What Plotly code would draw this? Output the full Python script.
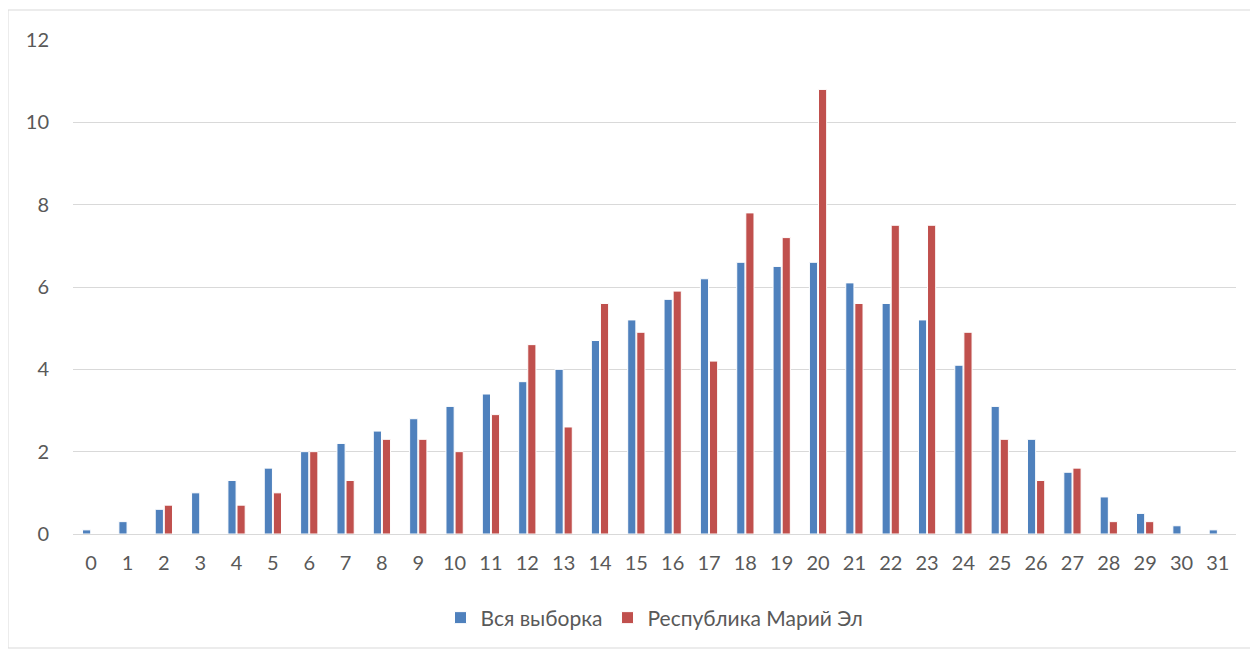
import plotly.graph_objects as go

categories = [str(i) for i in range(32)]
vsya_vyborka = [0.1, 0.3, 0.6, 1.0, 1.3, 1.6, 2.0, 2.2, 2.5, 2.8, 3.1, 3.4, 3.7, 4.0, 4.7, 5.2,
                5.7, 6.2, 6.6, 6.5, 6.6, 6.1, 5.6, 5.2, 4.1, 3.1, 2.3, 1.5, 0.9, 0.5, 0.2, 0.1]
mariy_el = [0, 0, 0.7, 0, 0.7, 1.0, 2.0, 1.3, 2.3, 2.3, 2.0, 2.9, 4.6, 2.6, 5.6, 4.9,
            5.9, 4.2, 7.8, 7.2, 10.8, 5.6, 7.5, 7.5, 4.9, 2.3, 1.3, 1.6, 0.3, 0.3, 0, 0]
series_names = ["Вся выборка", "Республика Марий Эл"]
colors = ["#4F81BD", "#C0504D"]

# page has 8px body margin; figure placed at (8, 8)
W, H = 1250, 642
ml, mr, mt, mb = 65, 22, 32, 116

fig = go.Figure()
for name, vals, c in zip(series_names, [vsya_vyborka, mariy_el], colors):
    fig.add_trace(go.Bar(x=categories, y=vals, name=name,
                         marker=dict(color=c, line=dict(color="white", width=1))))

pw = W - ml - mr
ph = H - mt - mb
x0 = (0 - ml) / pw
x1 = (1247 - ml) / pw
y1 = 1 + (mt - 2) / ph
y0 = -(mb - 2) / ph

fig.add_shape(type="rect", xref="paper", yref="paper", x0=x0, x1=x1, y0=y0, y1=y1,
              line=dict(color="#D9D9D9", width=1), fillcolor="rgba(0,0,0,0)", layer="below")

fig.update_layout(
    width=W, height=H,
    margin=dict(l=ml, r=mr, t=mt, b=mb),
    paper_bgcolor="white", plot_bgcolor="white",
    barmode="group", bargap=0.5, bargroupgap=0.1,
    font=dict(family="Lato, 'Open Sans', sans-serif", size=20, color="#595959"),
    xaxis=dict(type="category", showgrid=False, showline=True, linecolor="#D9D9D9",
               linewidth=1, ticks="outside", ticklen=11, tickcolor="white",
               tickfont=dict(size=20, color="#595959")),
    yaxis=dict(range=[0, 12], dtick=2, showgrid=True, gridcolor="#D9D9D9", gridwidth=1,
               zeroline=False, showline=False, ticks="outside", ticklen=19, tickcolor="white",
               tickfont=dict(size=20, color="#595959")),
    legend=dict(orientation="h", x=0.5, xanchor="center", y=-0.17, yanchor="middle",
                font=dict(size=21, color="#595959"), itemwidth=30),
    showlegend=True,
)

fig.write_html("out.html")
